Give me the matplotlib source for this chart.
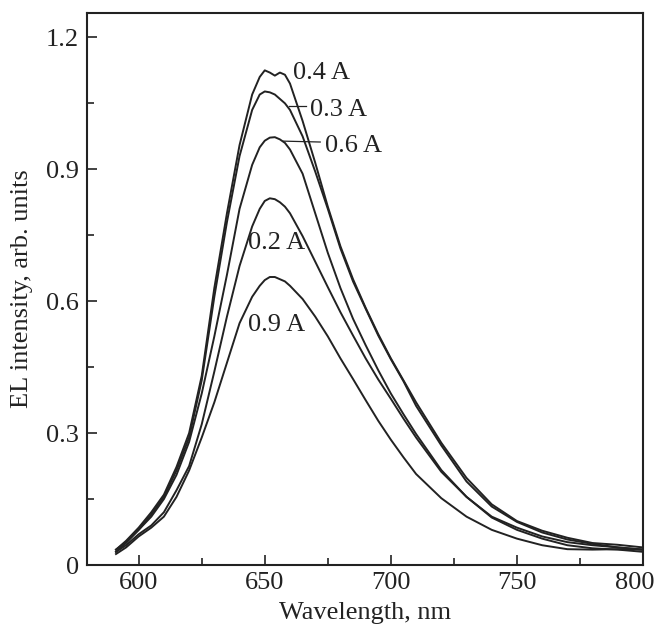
import matplotlib
matplotlib.use("Agg")
import matplotlib.pyplot as plt
import matplotlib.transforms as mtransforms
from matplotlib.ticker import FixedLocator

plt.rcParams["font.family"] = ["Liberation Serif", "DejaVu Serif"]

# wavelength grid (nm), shared by all spectra
wavelength = [591, 595, 600, 605, 610, 615, 620, 625, 630, 635, 640, 645, 648, 650,
              652, 654, 656, 658, 660, 665, 670, 675, 680, 685, 690, 695, 700, 705,
              710, 720, 730, 740, 750, 760, 770, 780, 790, 800]

# EL intensity, one list per drive current
el_04 = [0.035, 0.055, 0.085, 0.12, 0.16, 0.223, 0.30, 0.43, 0.63, 0.80, 0.955, 1.07,
         1.11, 1.125, 1.12, 1.113, 1.12, 1.115, 1.095, 1.01, 0.915, 0.815, 0.725, 0.65,
         0.585, 0.525, 0.47, 0.42, 0.37, 0.278, 0.198, 0.138, 0.10, 0.078, 0.062,
         0.05, 0.046, 0.04]
el_03 = [0.03, 0.05, 0.08, 0.115, 0.155, 0.215, 0.29, 0.42, 0.61, 0.78, 0.93, 1.035,
         1.07, 1.077, 1.075, 1.07, 1.06, 1.05, 1.035, 0.975, 0.895, 0.81, 0.72, 0.645,
         0.583, 0.522, 0.468, 0.418, 0.362, 0.272, 0.19, 0.133, 0.098, 0.074, 0.058,
         0.048, 0.04, 0.035]
el_06 = [0.035, 0.052, 0.08, 0.11, 0.15, 0.205, 0.28, 0.39, 0.52, 0.66, 0.81, 0.91,
         0.95, 0.965, 0.972, 0.973, 0.968, 0.96, 0.945, 0.89, 0.80, 0.71, 0.63, 0.56,
         0.50, 0.443, 0.39, 0.343, 0.298, 0.216, 0.155, 0.11, 0.085, 0.065, 0.052,
         0.045, 0.04, 0.035]
el_02 = [0.03, 0.045, 0.07, 0.09, 0.12, 0.17, 0.225, 0.32, 0.44, 0.565, 0.68, 0.77,
         0.81, 0.828, 0.834, 0.832, 0.825, 0.815, 0.80, 0.748, 0.69, 0.632, 0.575,
         0.522, 0.47, 0.422, 0.378, 0.333, 0.29, 0.212, 0.155, 0.108, 0.08, 0.06,
         0.045, 0.038, 0.035, 0.03]
el_09 = [0.025, 0.04, 0.065, 0.085, 0.11, 0.155, 0.215, 0.29, 0.37, 0.46, 0.55, 0.61,
         0.635, 0.648, 0.655, 0.655, 0.65, 0.645, 0.635, 0.605, 0.565, 0.52, 0.47,
         0.423, 0.375, 0.328, 0.285, 0.245, 0.207, 0.152, 0.11, 0.08, 0.06, 0.045,
         0.036, 0.035, 0.036, 0.035]

series = [el_04, el_03, el_06, el_02, el_09]

fig = plt.figure(figsize=(6.61, 6.28), dpi=100)
ax = fig.add_axes([0.1316, 0.1003, 0.8412, 0.8787])

for ys in series:
    ax.plot(wavelength, ys, color="#222222", linewidth=1.4)

ax.set_xlim(579.5, 800)
ax.set_ylim(0, 1.255)

ax.xaxis.set_major_locator(FixedLocator([600, 650, 700, 750, 800]))
ax.xaxis.set_minor_locator(FixedLocator([625, 675, 725, 775]))
ax.yaxis.set_major_locator(FixedLocator([0, 0.3, 0.6, 0.9, 1.2]))
ax.yaxis.set_minor_locator(FixedLocator([0.15, 0.45, 0.75, 1.05]))
ax.set_yticklabels(["0", "0.3", "0.6", "0.9", "1.2"])

FS = 19
ax.tick_params(which="both", direction="in", top=False, right=False,
               labelsize=FS, width=1.2, colors="#222222")
ax.tick_params(axis="y", which="major", length=7, pad=6)
ax.tick_params(axis="x", which="major", length=7, pad=5)
ax.tick_params(which="minor", length=5)
for sp in ax.spines.values():
    sp.set_linewidth(1.5)
    sp.set_color("#222222")

# the last x tick label sits a little left so it stays inside the figure
last = ax.get_xticklabels()[-1]
last.set_transform(last.get_transform()
                   + mtransforms.ScaledTranslation(-8 / 100, 0, fig.dpi_scale_trans))

ax.set_xlabel("Wavelength, nm", fontsize=FS, labelpad=6, color="#222222")
ax.set_ylabel("EL intensity, arb. units", fontsize=FS, labelpad=9, color="#222222")

# curve labels
ax.text(661, 1.12, "0.4 A", fontsize=FS, va="center", ha="left", color="#222222")
ax.text(668, 1.034, "0.3 A", fontsize=FS, va="center", ha="left", color="#222222")
ax.text(674, 0.952, "0.6 A", fontsize=FS, va="center", ha="left", color="#222222")
ax.text(643.5, 0.732, "0.2 A", fontsize=FS, va="center", ha="left", color="#222222")
ax.text(643.5, 0.545, "0.9 A", fontsize=FS, va="center", ha="left", color="#222222")
ax.plot([659.5, 666.5], [1.045, 1.045], color="#222222", linewidth=0.9)
ax.plot([657.5, 672.0], [0.964, 0.962], color="#222222", linewidth=0.9)

fig.savefig("out.png", dpi=100)
